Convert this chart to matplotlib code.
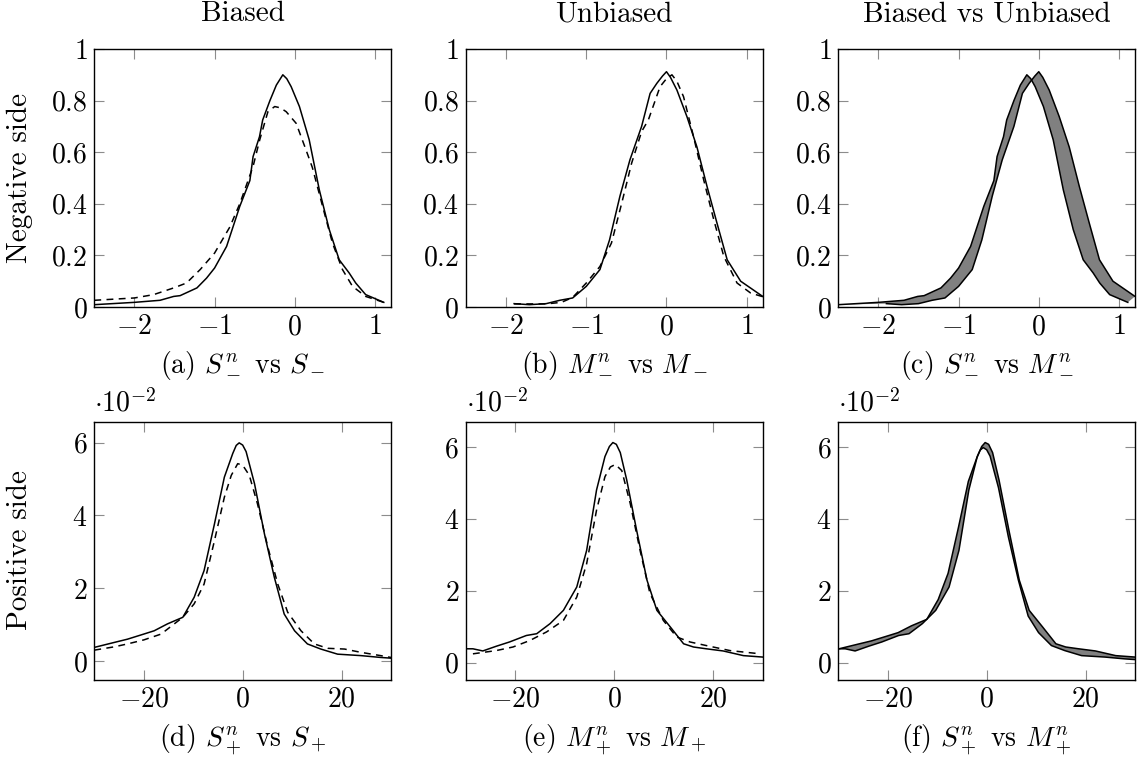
import numpy as np
import matplotlib
matplotlib.use("Agg")
import matplotlib.pyplot as plt
from matplotlib.ticker import FuncFormatter

plt.rcParams['font.family'] = ['cmr10', 'DejaVu Serif']
plt.rcParams['mathtext.fontset'] = 'cm'
plt.rcParams['axes.formatter.use_mathtext'] = True

# negative side, biased: S^n_- (solid) and S_- (dashed)
sn_neg_x = [-2.5, -2.0, -1.68, -1.51, -1.43, -1.22, -1.10, -1.0, -0.85, -0.686, -0.56, -0.52, -0.44,
            -0.40, -0.31, -0.23, -0.149, -0.10, -0.045, 0.058, 0.18, 0.306, 0.43, 0.554, 0.678,
            0.76, 0.884, 1.11]
sn_neg_y = [0.009, 0.018, 0.026, 0.041, 0.044, 0.074, 0.112, 0.151, 0.235, 0.39, 0.49, 0.583, 0.66,
            0.725, 0.80, 0.86, 0.90, 0.885, 0.854, 0.777, 0.648, 0.454, 0.30, 0.183, 0.132,
            0.093, 0.048, 0.018]
s_neg_x = [-2.5, -2.0, -1.76, -1.51, -1.35, -1.18, -1.0, -0.81, -0.686, -0.52, -0.437, -0.335,
           -0.25, -0.18, -0.107, 0.017, 0.14, 0.22, 0.347, 0.47, 0.595, 0.72, 0.884, 1.11]
s_neg_y = [0.026, 0.035, 0.048, 0.074, 0.093, 0.145, 0.209, 0.31, 0.40, 0.545, 0.648, 0.757,
           0.777, 0.772, 0.757, 0.712, 0.609, 0.54, 0.39, 0.248, 0.145, 0.08, 0.041, 0.018]

# negative side, unbiased: M^n_- (solid) and M_- (dashed)
mn_neg_x = [-1.9, -1.71, -1.5, -1.33, -1.17, -1.0, -0.83, -0.71, -0.58, -0.456, -0.31, -0.204,
            -0.12, -0.05, 0.0, 0.05, 0.13, 0.255, 0.38, 0.506, 0.63, 0.757, 0.925, 1.2]
mn_neg_y = [0.013, 0.009, 0.013, 0.026, 0.035, 0.08, 0.145, 0.26, 0.43, 0.57, 0.70, 0.828,
            0.867, 0.895, 0.912, 0.89, 0.841, 0.738, 0.62, 0.467, 0.325, 0.183, 0.10, 0.041]
m_neg_x = [-1.9, -1.5, -1.31, -1.17, -1.0, -0.83, -0.686, -0.56, -0.435, -0.31, -0.226, -0.08,
           0.0, 0.068, 0.13, 0.213, 0.338, 0.464, 0.59, 0.715, 0.88, 1.05, 1.2]
m_neg_y = [0.012, 0.012, 0.018, 0.037, 0.093, 0.157, 0.248, 0.40, 0.557, 0.68, 0.725, 0.854,
           0.885, 0.90, 0.875, 0.815, 0.66, 0.493, 0.338, 0.196, 0.093, 0.054, 0.04]

# positive side (values in units of 1e-2)
sn_pos_x = [-30, -26.0, -23.3, -20, -17.9, -15.2, -12.1, -9.8, -7.8, -5.7, -3.7, -2.0, -1.3,
            -0.7, 0.0, 0.7, 2.4, 4.4, 6.4, 8.4, 10.5, 13.1, 15.8, 19.2, 23.9, 27.9, 30]
sn_pos_y = [0.385, 0.52, 0.61, 0.75, 0.84, 1.03, 1.21, 1.76, 2.49, 3.77, 5.05, 5.70, 5.92,
            5.99, 5.93, 5.75, 4.87, 3.5, 2.31, 1.30, 0.84, 0.48, 0.34, 0.20, 0.16, 0.11, 0.09]
s_pos_x = [-30, -26.0, -23.3, -20, -16.5, -12.1, -9.8, -7.8, -5.7, -3.7, -2.3, -1.0, 0.0, 1.35,
           3.0, 5.1, 7.1, 9.1, 11.8, 14.5, 17.2, 20.6, 23.9, 27.9, 30]
s_pos_y = [0.31, 0.40, 0.48, 0.59, 0.75, 1.21, 1.58, 2.12, 3.31, 4.5, 5.1, 5.42, 5.38, 5.1,
           4.32, 3.13, 2.12, 1.35, 0.84, 0.48, 0.36, 0.34, 0.25, 0.16, 0.11]

mn_pos_x = [-30, -28.6, -26.6, -23.9, -21.2, -17.8, -15.7, -13.0, -10.3, -7.6, -5.6, -3.6,
            -1.9, -1.0, -0.3, 0.4, 1.2, 2.5, 4.5, 6.6, 8.6, 11.3, 14.0, 16.0, 18.6, 22.0, 26.1, 30]
mn_pos_y = [0.39, 0.39, 0.33, 0.46, 0.58, 0.76, 0.81, 1.09, 1.46, 2.11, 3.13, 4.81,
            5.74, 6.02, 6.13, 6.08, 5.85, 5.09, 3.69, 2.30, 1.46, 1.0, 0.53, 0.44, 0.39, 0.33,
            0.20, 0.16]
m_pos_x = [-28.6, -23.9, -20.5, -17.1, -13.7, -10.3, -7.6, -5.6, -3.6, -1.9, -0.8, 0.2, 1.5,
           3.2, 5.2, 7.2, 9.9, 12.6, 15.3, 18.6, 23.4, 29.5]
m_pos_y = [0.25, 0.34, 0.44, 0.62, 0.86, 1.18, 1.83, 2.76, 4.25, 5.18, 5.45, 5.52, 5.35,
           4.44, 3.13, 1.93, 1.18, 0.72, 0.58, 0.48, 0.34, 0.25]

col_titles = ['Biased', 'Unbiased', 'Biased vs Unbiased']
row_titles = ['Negative side', 'Positive side']
captions = [r'(a) $S^n_-$ vs $S_-$', r'(b) $M^n_-$ vs $M_-$', r'(c) $S^n_-$ vs $M^n_-$',
            r'(d) $S^n_+$ vs $S_+$', r'(e) $M^n_+$ vs $M_+$', r'(f) $S^n_+$ vs $M^n_+$']

W, H = 1138, 758
fig = plt.figure(figsize=(W / 100, H / 100), dpi=100)

lefts = [94.3, 466, 838.3]
tops = [49, 421.7]
aw, ah = 296.7, 258

fs = 20
fmt = FuncFormatter(lambda v, p: '$%g$' % v)

axes = []
for r in range(2):
    for c in range(3):
        ax = fig.add_axes([lefts[c] / W, 1 - (tops[r] + ah) / H, aw / W, ah / H])
        ax.tick_params(direction='in', top=True, right=True, length=7, width=0.8,
                       color='0.55', labelsize=fs, pad=5)
        for s in ax.spines.values():
            s.set_linewidth(1.0)
        ax.xaxis.set_major_formatter(fmt)
        ax.yaxis.set_major_formatter(fmt)
        axes.append(ax)

lw = 1.1
dash = (0, (4.5, 3.5))

def fill_pair(ax, x1, y1, x2, y2):
    px = np.concatenate([x1, x2[::-1]])
    py = np.concatenate([y1, y2[::-1]])
    ax.fill(px, py, color='#808080', lw=0)
    ax.plot(x1, y1, 'k-', lw=lw)
    ax.plot(x2, y2, 'k-', lw=lw)

# top row
ax = axes[0]
ax.plot(sn_neg_x, sn_neg_y, 'k-', lw=lw)
ax.plot(s_neg_x, s_neg_y, 'k', lw=lw, linestyle=dash)
ax = axes[1]
ax.plot(mn_neg_x, mn_neg_y, 'k-', lw=lw)
ax.plot(m_neg_x, m_neg_y, 'k', lw=lw, linestyle=dash)
fill_pair(axes[2], np.array(sn_neg_x), np.array(sn_neg_y), np.array(mn_neg_x), np.array(mn_neg_y))
for ax in axes[:3]:
    ax.set_xlim(-2.5, 1.2)
    ax.set_ylim(0, 1)
    ax.set_xticks([-2, -1, 0, 1])
    ax.set_yticks([0, 0.2, 0.4, 0.6, 0.8, 1])

# bottom row
ax = axes[3]
ax.plot(sn_pos_x, sn_pos_y, 'k-', lw=lw)
ax.plot(s_pos_x, s_pos_y, 'k', lw=lw, linestyle=dash)
ax.set_ylim(-0.5, 6.57)
ax = axes[4]
ax.plot(mn_pos_x, mn_pos_y, 'k-', lw=lw)
ax.plot(m_pos_x, m_pos_y, 'k', lw=lw, linestyle=dash)
ax.set_ylim(-0.47, 6.71)
fill_pair(axes[5], np.array(sn_pos_x), np.array(sn_pos_y), np.array(mn_pos_x), np.array(mn_pos_y))
axes[5].set_ylim(-0.47, 6.71)
for ax in axes[3:]:
    ax.set_xlim(-30, 30)
    ax.set_xticks([-20, 0, 20])
    ax.set_yticks([0, 2, 4, 6])
    ax.text(0.0, 1.015, r'$\cdot 10^{-2}$', transform=ax.transAxes, ha='left', va='bottom',
            fontsize=fs)

for c, t in enumerate(col_titles):
    fig.text((lefts[c] + aw / 2) / W, 1 - 14 / H, t, ha='center', va='center', fontsize=fs + 1)

fig.text(20 / W, 1 - 178 / H, row_titles[0], rotation=90, ha='center', va='center', fontsize=fs + 1)
fig.text(20 / W, 1 - 550 / H, row_titles[1], rotation=90, ha='center', va='center', fontsize=fs + 1)

for i, cap in enumerate(captions):
    r, c = divmod(i, 3)
    y = 366 if r == 0 else 740
    fig.text((lefts[c] + aw / 2) / W, 1 - y / H, cap, ha='center', va='center', fontsize=fs)

fig.savefig('out.png', dpi=100)
